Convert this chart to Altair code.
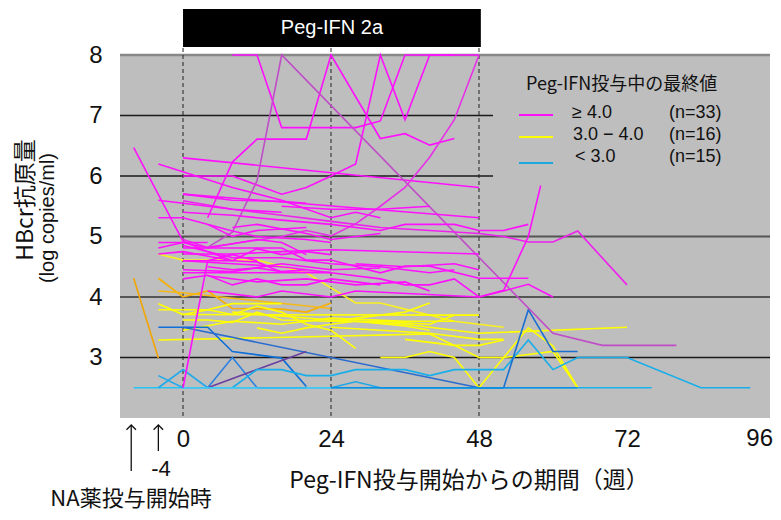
import altair as alt
import pandas as pd

# ---------------- data ----------------
x_ticks = [0, 24, 48, 72, 96]
y_ticks = [3, 4, 5, 6, 7, 8]
peg_period = [0, 48.3]
dashed_weeks = [0, 24, 48]
grid_full_dark = [3]
grid_full_gray = [4, 5]
grid_short = [6, 7]
grid_top = [8]

# each line: (week, log copies/ml) pairs, values capped 2.5 .. 8
magenta_lines = [
    [(0, 6.30), (48, 5.81)],
    [(-4, 6.20), (8, 5.81), (16, 5.6), (24, 5.31), (28, 5.40), (32, 5.31)],
    [(0, 6.0), (8, 6.0), (16, 5.70), (20, 5.81), (24, 6.0), (28, 6.2), (32, 8), (36, 6.93), (40, 8), (48, 8)],
    [(8, 8), (12, 8), (16, 6.8), (20, 6.8), (24, 6.8), (28, 6.8), (32, 6.91), (36, 8), (44, 8)],
    [(4, 5.31), (8, 6.23), (12, 6.61), (20, 6.61), (24, 8), (32, 6.62), (36, 6.70), (40, 6.51), (44, 6.62)],
    [(4, 4.82), (8, 5.07), (12, 5.92), (16, 8), (60, 3.4), (68, 3.2), (80, 3.2)],
    [(0, 4.95), (4, 4.82), (8, 4.88), (16, 5.0), (20, 5.1), (24, 5.01), (28, 5.21), (32, 5.5), (36, 5.81), (40, 6.31), (44, 6.93), (48, 8)],
    [(0, 5.70), (48, 5.31)],
    [(0, 5.40), (8, 5.35), (16, 5.27), (24, 5.20), (32, 5.10), (36, 5.20), (44, 5.20), (48, 5.10), (52, 5.10), (56, 5.20)],
    [(-4, 5.31), (0, 5.31), (8, 5.09), (12, 5.0), (20, 4.95), (24, 4.9)],
    [(0, 5.59), (8, 5.45), (16, 5.35), (24, 5.25), (32, 5.15), (40, 5.1), (48, 5.05), (52, 5.0), (56, 4.91), (60, 4.91), (64, 5.09), (72, 4.2)],
    [(0, 4.6), (8, 4.55), (16, 4.5), (24, 4.4), (32, 4.3), (36, 4.2), (40, 4.2), (44, 4.3), (48, 4.0), (52, 4.11), (56, 5.0), (58, 5.84)],
    [(-4, 4.90), (0, 4.90), (4, 4.90)],
    [(-4, 4.81), (0, 4.90), (4, 4.81), (12, 4.95), (16, 4.9), (20, 4.7)],
    [(0, 4.81), (12, 4.81), (16, 4.81), (20, 4.61), (24, 4.61), (32, 4.40), (36, 4.51), (40, 4.51), (48, 4.31), (56, 4.31)],
    [(0, 4.71), (8, 4.71), (16, 4.75), (24, 4.78), (48, 4.71)],
    [(0, 4.60), (8, 4.60), (12, 4.58), (16, 4.41), (24, 4.41)],
    [(0, 4.40), (24, 4.40)],
    [(0, 4.30), (4, 4.36), (8, 4.2), (12, 4.3), (16, 4.2), (20, 4.2), (24, 4.3), (32, 4.2)],
    [(4, 4.10), (12, 4.0), (16, 4.10), (24, 4.0), (28, 4.10), (48, 4.0), (52, 4.10), (56, 4.21), (60, 4.0)],
    [(0, 2.5), (4, 4.6), (8, 4.7), (12, 4.6)],
    [(4, 5.2), (8, 5.0), (12, 5.1), (20, 5.15)],
    [(-4, 4.71), (0, 4.75), (8, 4.6), (12, 4.8), (16, 4.7), (20, 4.75), (24, 4.7)],
    [(0, 4.85), (8, 4.65), (16, 4.65), (24, 4.55), (32, 4.5), (40, 4.4), (44, 4.45)],
    [(4, 4.5), (8, 4.45), (12, 4.48), (16, 4.42), (20, 4.45)],
    [(0, 4.45), (8, 4.42), (16, 4.55), (24, 4.45), (32, 4.48)],
    [(8, 5.15), (12, 5.2), (20, 5.05), (24, 4.95), (32, 5.05)],
    [(16, 5.5), (24, 5.45), (32, 5.45), (40, 5.5)],
    [(-4, 5.6), (0, 5.55), (8, 5.45), (16, 5.4)],
    [(4, 4.35), (12, 4.25), (20, 4.3), (28, 4.2), (36, 4.25), (40, 4.1)],
    [(28, 4.55), (36, 4.5), (44, 4.55), (48, 4.45)],
    [(0, 5.7), (8, 5.6), (16, 5.58), (20, 5.55)],
    [(-8, 6.47), (0, 4.92), (4, 4.75), (8, 4.6)],
]
magenta_colors = ["#FF10FF"] * 33
magenta_colors[5] = "#C04CC8"
magenta_colors[6] = "#E830E8"
magenta_colors[10] = "#F020F0"

yellow_lines = [
    [(-8, 4.31), (-4, 2.99)],
    [(-4, 4.31), (0, 4.0), (4, 4.10), (8, 3.81), (16, 3.8), (20, 3.75), (24, 3.9)],
    [(-4, 4.10), (0, 4.07), (8, 3.98), (24, 3.81)],
    [(-4, 4.71), (0, 4.61), (12, 4.61), (20, 4.40), (28, 3.90), (32, 3.90), (36, 3.80), (40, 3.7), (44, 3.6), (48, 3.55), (52, 3.5)],
    [(-4, 3.89), (0, 3.71), (4, 3.79), (8, 3.71), (12, 3.85), (16, 3.75), (20, 3.55), (24, 3.45), (28, 3.15)],
    [(-4, 3.79), (4, 3.79), (8, 3.89), (16, 3.89)],
    [(0, 3.71), (48, 3.70)],
    [(0, 3.62), (4, 3.62), (8, 3.58), (12, 3.75), (16, 3.62), (24, 3.6), (32, 3.6), (40, 3.55), (44, 3.7)],
    [(-4, 3.29), (24, 3.35), (40, 3.39), (44, 3.20), (48, 3.20), (52, 3.29)],
    [(12, 3.49), (16, 3.40), (20, 3.49), (24, 3.55), (28, 3.6), (36, 3.52), (40, 3.45)],
    [(32, 3.0), (36, 3.0), (40, 3.1), (44, 3.0), (48, 2.5), (52, 3.0), (56, 3.49), (60, 3.19), (64, 2.5)],
    [(8, 3.75), (24, 3.62), (36, 3.55), (48, 3.4), (72, 3.5)],
    [(24, 3.6), (32, 3.7), (36, 3.75), (40, 3.9)],
    [(36, 3.3), (44, 3.2), (48, 3.0), (52, 3.0), (56, 3.05), (60, 3.1), (64, 2.5)],
    [(24, 3.5), (32, 3.45), (40, 3.4), (48, 3.3), (52, 3.3)],
    [(0, 3.45), (8, 3.6), (16, 3.55), (24, 3.65), (36, 3.6), (44, 3.6)],
]
yellow_colors = ["#F2A500", "#F7B000", "#F5B818"] + ["#FFFF00"] * 13
yellow_colors[3] = "#F8F020"

blue_lines = [
    [(-8, 2.5), (64, 2.5)],
    [(-4, 3.50), (4, 3.50), (8, 3.1), (16, 2.99), (20, 2.52)],
    [(0, 3.5), (48, 2.5)],
    [(4, 2.5), (8, 3.0), (12, 2.5)],
    [(4, 2.5), (20, 3.1)],
    [(-4, 2.7), (0, 2.5)],
    [(-4, 2.5), (0, 2.8), (4, 2.5)],
    [(8, 2.5), (12, 2.8), (16, 2.8), (20, 2.7), (24, 2.7), (28, 2.8), (36, 2.8), (40, 2.7), (44, 2.8), (52, 2.8), (56, 3.29), (60, 2.8), (64, 3.0), (72, 3.0), (84, 2.5), (92, 2.5)],
    [(24, 2.5), (28, 2.6), (32, 2.5)],
    [(48, 2.5), (52, 2.5), (56, 3.79), (60, 3.1), (64, 3.1)],
    [(24, 2.5), (64, 2.5)],
    [(64, 2.5), (76, 2.5)],
    [(0, 2.5), (24, 2.5)],
    [(32, 2.5), (52, 2.5)],
    [(12, 2.5), (20, 2.5)],
]
blue_colors = ["#22C4F4", "#0F6FD8", "#2A6CD0", "#2C82E0", "#6A40A0", "#20AAEC", "#20AAEC",
               "#18AEEA", "#20A8E8", "#1A6FD0", "#0A8EE0", "#18B4F0", "#3CC8F8", "#0A90E0", "#30B8F0"]

legend_labels = ["≥ 4.0", "3.0 − 4.0", "< 3.0"]
legend_counts = ["(n=33)", "(n=16)", "(n=15)"]
legend_colors = ["#FF10FF", "#FFFF00", "#1EA8E0"]
arrow_weeks = [-8.4, -4]

# ---------------- build table ----------------
rows = []
lid = 0
for group, lines, colors in (("y", yellow_lines, yellow_colors),
                             ("b", blue_lines, blue_colors),
                             ("m", magenta_lines, magenta_colors)):
    for line, col in zip(lines, colors):
        for k, (w, v) in enumerate(line):
            rows.append({"id": f"{lid:03d}", "ord": k, "week": w, "value": v, "color": col})
        lid += 1
df = pd.DataFrame(rows)

W, H = 653, 363
xs = alt.Scale(domain=[-10.22, 95.68], nice=False, zero=False)
ys = alt.Scale(domain=[2, 8], nice=False, zero=False)
NUMF = "Liberation Sans"
JPF = "Noto Sans CJK JP"

XAX = alt.Axis(values=x_ticks, title=None, domain=False, ticks=False, grid=False,
               labelFontSize=24, labelFont=NUMF, labelColor="#111", labelPadding=9,
               labelFlush=False, labelBound=False, labelOverlap=False)
YAX = alt.Axis(values=y_ticks, title=None, domain=False, ticks=False, grid=False,
               labelFontSize=24, labelFont=NUMF, labelColor="#111", labelPadding=18)

one = pd.DataFrame({"a": [0]})

bg = alt.Chart(one).mark_rect(color="#BEBEBE").encode(
    x=alt.value(0), x2=alt.value(650), y=alt.value(0), y2=alt.value(H))

def hrule(vals, color, width, x_end):
    return alt.Chart(pd.DataFrame({"v": vals})).mark_rule(color=color, strokeWidth=width).encode(
        y=alt.Y("v:Q", scale=ys, axis=YAX), x=alt.value(0), x2=alt.value(x_end))

g1 = hrule(grid_full_dark, "#1a1a1a", 1.3, 650)
g2 = hrule(grid_full_gray, "#555555", 2, 650)
g3 = hrule(grid_short, "#1a1a1a", 1.3, 373)
g4 = hrule(grid_top, "#888888", 2.5, 650)

dashed = alt.Chart(pd.DataFrame({"w": dashed_weeks})).mark_rule(
    color="#222222", strokeDash=[4, 3], strokeWidth=1).encode(
    x=alt.X("w:Q", scale=xs, axis=XAX), y=alt.value(-7), y2=alt.value(H))

lines = alt.Chart(df).mark_line(strokeWidth=1.6).encode(
    x=alt.X("week:Q", scale=xs, axis=XAX),
    y=alt.Y("value:Q", scale=ys, axis=YAX),
    detail="id:N",
    order="ord:Q",
    color=alt.Color("color:N", scale=None),
)

# last tick label (96) sits at the plot's right edge, partly cut as in the original
last_tick = alt.Chart(pd.DataFrame({"t": [str(x_ticks[-1])]})).mark_text(
    fontSize=24, font=NUMF, align="right", baseline="top", color="#111").encode(
    x=alt.value(W), y=alt.value(H + 9), text="t:N")

bar_df = pd.DataFrame({"s": [peg_period[0]], "e": [peg_period[1]], "t": ["Peg-IFN  2a"],
                       "m": [(peg_period[0] + peg_period[1]) / 2]})
bar = alt.Chart(bar_df).mark_rect(color="black").encode(
    x=alt.X("s:Q", scale=xs, axis=XAX), x2="e:Q", y=alt.value(-46), y2=alt.value(-8))
bar_text = alt.Chart(bar_df).mark_text(color="white", fontSize=20, font=NUMF, baseline="middle").encode(
    x=alt.X("m:Q", scale=xs, axis=XAX), y=alt.value(-27), text="t:N")

# legend
leg_layers = []
leg_layers.append(alt.Chart(pd.DataFrame({"t": ["Peg-IFN投与中の最終値"]})).mark_text(
    fontSize=18, font=JPF, align="left", baseline="middle", color="#111").encode(
    x=alt.value(406), y=alt.value(30), text="t:N"))
for i, (lab, cnt, col) in enumerate(zip(legend_labels, legend_counts, legend_colors)):
    ly = [60, 82, 108][i]
    ty = [58, 80, 102][i]
    tx = [452, 453, 455][i]
    d = pd.DataFrame({"lab": [lab], "cnt": [cnt]})
    leg_layers.append(alt.Chart(d).mark_rule(color=col, strokeWidth=2).encode(
        x=alt.value(399), x2=alt.value(433), y=alt.value(ly)))
    leg_layers.append(alt.Chart(d).mark_text(fontSize=18, font=NUMF, align="left", baseline="middle",
                                             color="#111").encode(x=alt.value(tx), y=alt.value(ty), text="lab:N"))
    leg_layers.append(alt.Chart(d).mark_text(fontSize=18, font=NUMF, align="left", baseline="middle",
                                             color="#111").encode(x=alt.value(549), y=alt.value(ty), text="cnt:N"))

# axis titles and annotations
ytitle1 = alt.Chart(pd.DataFrame({"t": ["HBcr抗原量"]})).mark_text(
    fontSize=23, font=JPF, angle=270, baseline="middle", color="#111").encode(
    x=alt.value(-94), y=alt.value(145), text="t:N")
ytitle2 = alt.Chart(pd.DataFrame({"t": ["(log copies/ml)"]})).mark_text(
    fontSize=20, font=NUMF, angle=270, baseline="middle", color="#111").encode(
    x=alt.value(-72), y=alt.value(163), text="t:N")
xtitle = alt.Chart(pd.DataFrame({"t": ["Peg-IFN投与開始からの期間（週）"]})).mark_text(
    fontSize=23, font=JPF, baseline="middle", color="#111").encode(
    x=alt.value(349), y=alt.value(426), text="t:N")

arr_df = pd.DataFrame({"w": arrow_weeks})
arrow1 = alt.Chart(arr_df.iloc[[0]]).mark_rule(color="#111", strokeWidth=1.3).encode(
    x=alt.X("w:Q", scale=xs, axis=XAX), y=alt.value(370), y2=alt.value(416))
arrow2 = alt.Chart(arr_df.iloc[[1]]).mark_rule(color="#111", strokeWidth=1.3).encode(
    x=alt.X("w:Q", scale=xs, axis=XAX), y=alt.value(370), y2=alt.value(396))
heads = alt.Chart(arr_df).mark_point(shape="M-1,1L0,0L1,1", filled=False, color="#111",
                                     strokeWidth=1.3, size=90, opacity=1).encode(
    x=alt.X("w:Q", scale=xs, axis=XAX), y=alt.value(370))
minus4 = alt.Chart(pd.DataFrame({"t": ["-4"]})).mark_text(
    fontSize=22, font=NUMF, baseline="middle", color="#111").encode(
    x=alt.value(41), y=alt.value(414), text="t:N")
na_text = alt.Chart(pd.DataFrame({"t": ["NA薬投与開始時"]})).mark_text(
    fontSize=22, font=JPF, baseline="middle", color="#111").encode(
    x=alt.value(11), y=alt.value(444), text="t:N")

chart = alt.layer(
    bg, g1, g2, g3, g4, dashed, lines, last_tick, bar, bar_text, *leg_layers,
    ytitle1, ytitle2, xtitle, arrow1, arrow2, heads, minus4, na_text
).properties(
    width=W, height=H,
    padding={"left": 112, "top": 47, "right": 0, "bottom": 94},
    autosize="none",
    background="white",
).configure_view(stroke=None)

chart.save("out.html", embed_options={"renderer": "svg", "actions": False})
